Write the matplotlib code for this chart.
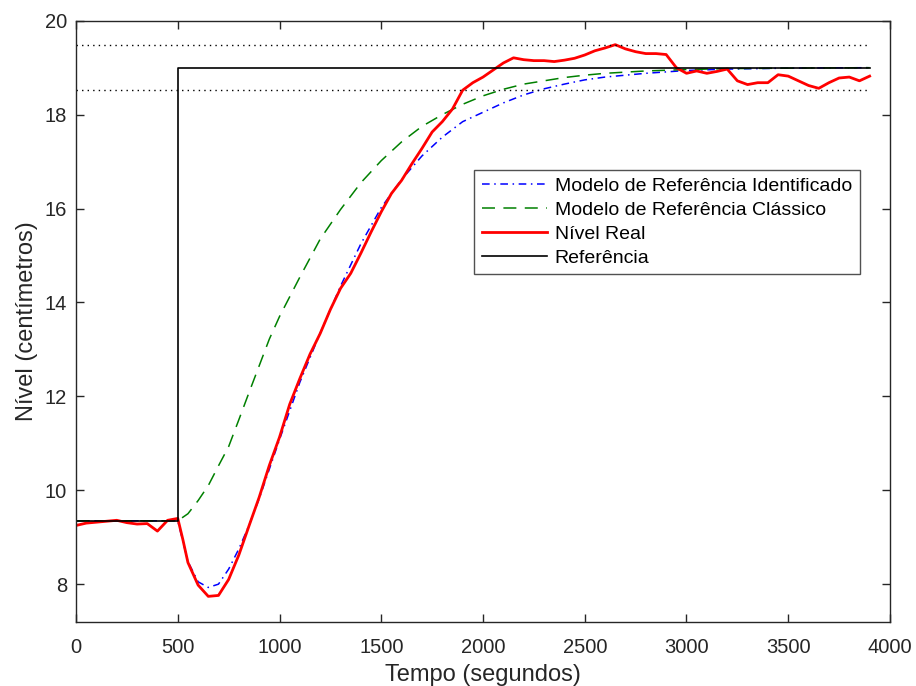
import numpy as np
import matplotlib
matplotlib.use('Agg')
import matplotlib.pyplot as plt

plt.rcParams['font.family'] = ['Liberation Sans', 'DejaVu Sans']

t_real = [0, 50, 100, 150, 200, 250, 300, 350, 400, 450, 500, 525, 550, 600, 650, 700,
          750, 800, 850, 900, 950, 1000, 1050, 1100, 1150, 1200, 1250, 1300, 1350, 1400,
          1450, 1500, 1550, 1600, 1650, 1700, 1750, 1800, 1850, 1900, 1950, 2000, 2050,
          2100, 2150, 2200, 2250, 2300, 2350, 2400, 2450, 2500, 2550, 2600, 2650, 2700,
          2750, 2800, 2850, 2900, 2950, 3000, 3050, 3100, 3150, 3200, 3250, 3300, 3350,
          3400, 3450, 3500, 3550, 3600, 3650, 3700, 3750, 3800, 3850, 3900]
y_real = [9.25, 9.30, 9.32, 9.34, 9.36, 9.31, 9.28, 9.29, 9.13, 9.36, 9.40, 8.95, 8.46,
          7.98, 7.74, 7.76, 8.10, 8.62, 9.24, 9.85, 10.53, 11.13, 11.83, 12.38, 12.90,
          13.34, 13.85, 14.30, 14.62, 15.05, 15.50, 15.93, 16.32, 16.60, 16.95, 17.28,
          17.63, 17.85, 18.12, 18.52, 18.68, 18.80, 18.95, 19.10, 19.21, 19.17, 19.15,
          19.15, 19.13, 19.16, 19.20, 19.27, 19.36, 19.42, 19.49, 19.40, 19.34, 19.30,
          19.30, 19.28, 19.00, 18.88, 18.93, 18.88, 18.92, 18.97, 18.72, 18.64, 18.68,
          18.68, 18.85, 18.82, 18.72, 18.62, 18.56, 18.68, 18.78, 18.80, 18.72, 18.82]

# identified reference model
t_ident = [0, 500, 550, 600, 650, 700, 750, 800, 850, 900, 950, 1000, 1100, 1200, 1300,
           1400, 1500, 1600, 1700, 1800, 1900, 2000, 2100, 2200, 2300, 2400, 2500, 2600,
           2800, 3000, 3200, 3500, 3900]
y_ident = [9.35, 9.35, 8.48, 8.05, 7.93, 8.00, 8.32, 8.75, 9.25, 9.82, 10.45, 11.08, 12.30,
           13.35, 14.35, 15.25, 16.02, 16.62, 17.12, 17.52, 17.85, 18.05, 18.25, 18.42,
           18.55, 18.65, 18.74, 18.80, 18.88, 18.94, 18.97, 18.99, 19.00]

# classic reference model
t_class = [0, 500, 550, 600, 650, 700, 750, 800, 850, 900, 950, 1000, 1100, 1200, 1300,
           1400, 1500, 1600, 1700, 1800, 1900, 2000, 2100, 2200, 2300, 2400, 2500, 2600,
           2800, 3000, 3200, 3500, 3900]
y_class = [9.35, 9.35, 9.50, 9.78, 10.10, 10.52, 10.93, 11.50, 12.08, 12.65, 13.22, 13.70,
           14.54, 15.35, 15.98, 16.55, 17.02, 17.42, 17.75, 18.00, 18.22, 18.40, 18.54,
           18.65, 18.72, 18.79, 18.84, 18.88, 18.93, 18.96, 18.98, 18.99, 19.00]

# setpoint step and +-2.5% band
t_ref = [0, 500, 500, 3900]
y_ref = [9.35, 9.35, 19.0, 19.0]
band = [18.525, 19.475]
t_end = 3900

fig = plt.figure(figsize=(9.16, 6.86), dpi=100)
ax = fig.add_axes([0.083, 0.0937, 0.8886, 0.8761])

l1, = ax.plot(t_ident, y_ident, color='b', linestyle=(0, (5, 3, 1, 3)), lw=1.1,
              label='Modelo de Referência Identificado')
l2, = ax.plot(t_class, y_class, color=(0, 0.5, 0), linestyle=(0, (8.5, 5.5)), lw=1.1,
              label='Modelo de Referência Clássico')
l3, = ax.plot(t_real, y_real, color='r', lw=2.0, label='Nível Real')
l4, = ax.plot(t_ref, y_ref, color='k', lw=1.2, label='Referência')
for b in band:
    ax.plot([0, t_end], [b, b], color='k', linestyle=(0, (1, 3)), lw=1.0)

ax.set_xlim(0, 4000)
ax.set_ylim(7.2, 20)
ax.set_xticks(np.arange(0, 4001, 500))
ax.set_yticks(np.arange(8, 21, 2))

dark = (0.15, 0.15, 0.15)
for s in ax.spines.values():
    s.set_color(dark)
    s.set_linewidth(1.0)
ax.tick_params(direction='in', length=6, width=1.0, color=dark, labelcolor=dark,
               labelsize=14.5, top=True, right=True)
ax.tick_params(axis='x', pad=12)
ax.tick_params(axis='y', pad=6.5)

ax.set_xlabel('Tempo (segundos)', fontsize=17, color=dark, labelpad=5)
ax.set_ylabel('Nível (centímetros)', fontsize=17, color=dark, labelpad=5)

leg = ax.legend(handles=[l1, l2, l3, l4], loc='upper left', bbox_to_anchor=(0.489, 0.752),
                fontsize=14, frameon=True, fancybox=False, borderpad=0.4,
                labelspacing=0.32, handlelength=3.35, handletextpad=0.4, borderaxespad=0)
leg.get_frame().set_edgecolor(dark)
leg.get_frame().set_linewidth(1.0)

fig.savefig('out.png', dpi=100)
